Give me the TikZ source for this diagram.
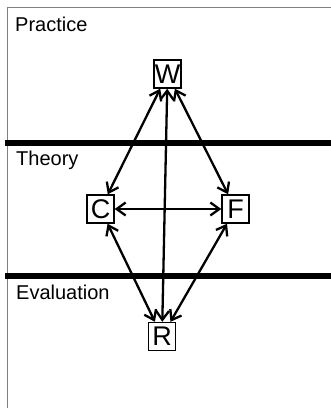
\documentclass[tikz,border=0pt]{standalone}
\usepackage{fontspec}
\setmainfont{Liberation Sans}
\usetikzlibrary{arrows.meta}
\begin{document}
\begin{tikzpicture}[x=1pt,y=-1pt,
  letter/.style={draw,line width=1.4pt,inner sep=0pt,minimum width=27pt,minimum height=28pt,font=\fontsize{27}{27}\selectfont},
  zone/.style={anchor=base west,inner sep=0pt,font=\fontsize{20}{20}\selectfont},
  link/.style={{Straight Barb[length=9pt,width=13pt]}-{Straight Barb[length=9pt,width=13pt]},line width=2.3pt}]
\useasboundingbox (0,0) rectangle (331,408);
\draw[gray,line width=1pt] (7,408) -- (7,7) -- (331,7);
\draw[line width=6pt] (5,142.5) -- (331,142.5);
\draw[line width=6pt] (5,276) -- (331,276);
\node[zone] (practice) at (15,31) {Practice};
\node[zone] (theory) at (16,165) {Theory};
\node[zone] (evaluation) at (16,299) {Evaluation};
\node[letter] (W) at (167.5,74) {W};
\node[letter] (C) at (100.5,209) {C};
\node[letter] (F) at (235.5,209) {F};
\node[letter] (R) at (162,336.5) {R};
\draw[link] (W) -- (C);
\draw[link] (W) -- (F);
\draw[link] (W) -- (R);
\draw[link] (C) -- (F);
\draw[link] (C) -- (R);
\draw[link] (F) -- (R);
\end{tikzpicture}
\end{document}
